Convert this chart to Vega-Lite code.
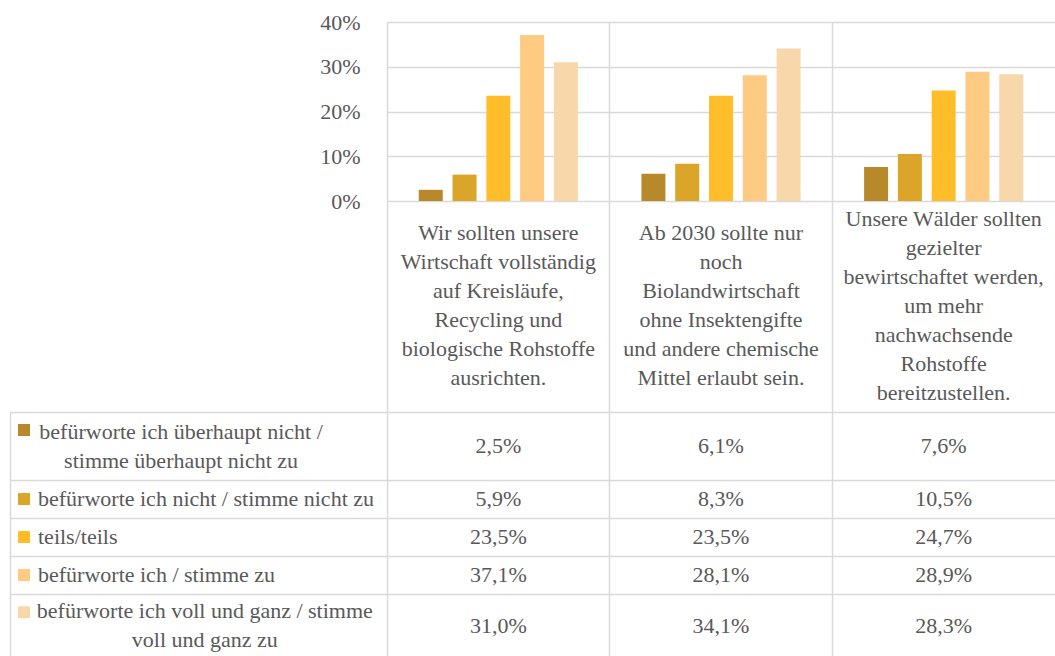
{
  "$schema": "https://vega.github.io/schema/vega-lite/v6.json",
  "padding": {"left": 10, "top": 11, "right": 0, "bottom": 0},
  "background": "white",
  "config": {
    "font": "Liberation Serif, DejaVu Serif, serif",
    "view": {"stroke": null},
    "locale": {"number": {"decimal": ",", "thousands": ".", "grouping": [3], "currency": ["", " €"]}},
    "axis": {"gridColor": "#d9d9d9", "gridWidth": 1.5, "domainColor": "#d9d9d9", "domainWidth": 1.5, "labelColor": "#595959", "labelFont": "Liberation Serif, DejaVu Serif, serif"},
    "text": {"font": "Liberation Serif, DejaVu Serif, serif", "fill": "#595959", "fontSize": 22},
    "concat": {"spacing": 0}
  },
  "datasets": {
    "kategorien": [
      {"K": 1, "Kategorie": "Wir sollten unsere\nWirtschaft vollständig\nauf Kreisläufe,\nRecycling und\nbiologische Rohstoffe\nausrichten."},
      {"K": 2, "Kategorie": "Ab 2030 sollte nur\nnoch\nBiolandwirtschaft\nohne Insektengifte\nund andere chemische\nMittel erlaubt sein."},
      {"K": 3, "Kategorie": "Unsere Wälder sollten\ngezielter\nbewirtschaftet werden,\num mehr\nnachwachsende\nRohstoffe\nbereitzustellen."}
    ],
    "antworten": [
      {"Nr": 1, "Antwort": "befürworte ich überhaupt nicht /\nstimme überhaupt nicht zu"},
      {"Nr": 2, "Antwort": "befürworte ich nicht / stimme nicht zu"},
      {"Nr": 3, "Antwort": "teils/teils"},
      {"Nr": 4, "Antwort": "befürworte ich / stimme zu"},
      {"Nr": 5, "Antwort": "befürworte ich voll und ganz / stimme\nvoll und ganz zu"}
    ],
    "werte": [
      {"K": 1, "Nr": 1, "Wert": 0.025},
      {"K": 1, "Nr": 2, "Wert": 0.059},
      {"K": 1, "Nr": 3, "Wert": 0.235},
      {"K": 1, "Nr": 4, "Wert": 0.371},
      {"K": 1, "Nr": 5, "Wert": 0.310},
      {"K": 2, "Nr": 1, "Wert": 0.061},
      {"K": 2, "Nr": 2, "Wert": 0.083},
      {"K": 2, "Nr": 3, "Wert": 0.235},
      {"K": 2, "Nr": 4, "Wert": 0.281},
      {"K": 2, "Nr": 5, "Wert": 0.341},
      {"K": 3, "Nr": 1, "Wert": 0.076},
      {"K": 3, "Nr": 2, "Wert": 0.105},
      {"K": 3, "Nr": 3, "Wert": 0.247},
      {"K": 3, "Nr": 4, "Wert": 0.289},
      {"K": 3, "Nr": 5, "Wert": 0.283}
    ]
  },
  "columns": 3,
  "spacing": 0,
  "bounds": "flush",
  "concat": [
    {"width": 28, "height": 179, "data": {"values": []}, "mark": "text", "encoding": {}},
    {"width": 349, "height": 179, "data": {"values": []}, "mark": "text", "encoding": {}},
    {
      "width": 668, "height": 179,
      "data": {"name": "werte"},
      "mark": {"type": "bar"},
      "encoding": {
        "x": {"field": "K", "type": "ordinal", "scale": {"type": "band", "paddingInner": 0, "paddingOuter": 0},
              "axis": {"title": null, "labels": false, "ticks": false, "domain": false, "grid": true, "bandPosition": 0}},
        "xOffset": {"field": "Nr", "type": "ordinal", "scale": {"paddingInner": 0.29, "paddingOuter": 0.94}},
        "y": {"field": "Wert", "type": "quantitative", "scale": {"domain": [0, 0.4]},
              "axis": {"title": null, "values": [0, 0.1, 0.2, 0.3, 0.4], "format": ".0%", "domain": false, "ticks": false, "tickSize": 0, "labelPadding": 27, "labelFontSize": 22, "grid": true}},
        "color": {"field": "Nr", "type": "ordinal", "scale": {"domain": [1, 2, 3, 4, 5], "range": ["#B8892A", "#DAA529", "#FFBE29", "#FFCB82", "#F8D8AA"]}, "legend": null}
      }
    },
    {"width": 28, "height": 211, "data": {"values": []}, "mark": "text", "encoding": {}},
    {"width": 349, "height": 211, "data": {"values": []}, "mark": "text", "encoding": {}},
    {
      "width": 668, "height": 211,
      "data": {"name": "kategorien"},
      "encoding": {
        "x": {"field": "K", "type": "ordinal", "scale": {"type": "band", "paddingInner": 0, "paddingOuter": 0},
              "axis": {"title": null, "labels": false, "ticks": false, "domain": false, "grid": true, "bandPosition": 0}},
        "text": {"field": "Kategorie"}
      },
      "layer": [
        {"transform": [{"filter": "datum.K !== 3"}], "mark": {"type": "text", "align": "center", "baseline": "middle", "lineBreak": "\n", "lineHeight": 29, "dy": -74}},
        {"transform": [{"filter": "datum.K === 3"}], "mark": {"type": "text", "align": "center", "baseline": "middle", "lineBreak": "\n", "lineHeight": 29, "dy": -88}}
      ]
    },

    {"width": 28, "height": 68, "data": {"name": "antworten"}, "transform": [{"filter": "datum.Nr === 1"}],
     "mark": {"type": "square", "size": 144, "opacity": 1},
     "encoding": {
       "x": {"field": "Nr", "type": "ordinal", "axis": {"orient": "top", "title": null, "labels": false, "ticks": false, "domain": true, "grid": false}},
       "y": {"field": "Nr", "type": "ordinal", "scale": {"type": "band", "paddingInner": 0, "paddingOuter": 0}, "bandPosition": 0.265, "axis": {"orient": "left", "title": null, "labels": false, "ticks": false, "domain": true, "grid": false}},
       "color": {"field": "Nr", "type": "ordinal", "scale": {"domain": [1, 2, 3, 4, 5], "range": ["#B8892A", "#DAA529", "#FFBE29", "#FFCB82", "#F8D8AA"]}, "legend": null}
     }},
    {"width": 349, "height": 68, "data": {"name": "antworten"}, "transform": [{"filter": "datum.Nr === 1"}],
     "mark": {"type": "text", "align": "center", "baseline": "middle", "lineBreak": "\n", "lineHeight": 29, "dy": -14.5},
     "encoding": {
       "x": {"field": "Nr", "type": "ordinal", "scale": {"type": "band", "paddingInner": 0, "paddingOuter": 0}, "bandPosition": 0.41, "axis": {"orient": "top", "title": null, "labels": false, "ticks": false, "domain": true, "grid": false}},
       "text": {"field": "Antwort"}
     }},
    {"width": 668, "height": 68, "data": {"name": "werte"}, "transform": [{"filter": "datum.Nr === 1"}],
     "mark": {"type": "text", "align": "center", "baseline": "middle"},
     "encoding": {
       "x": {"field": "K", "type": "ordinal", "scale": {"type": "band", "paddingInner": 0, "paddingOuter": 0}, "axis": {"orient": "top", "title": null, "labels": false, "ticks": false, "domain": true, "grid": true, "bandPosition": 0}},
       "text": {"field": "Wert", "type": "quantitative", "format": ".1%"}
     }},

    {"width": 28, "height": 38, "data": {"name": "antworten"}, "transform": [{"filter": "datum.Nr === 2"}],
     "mark": {"type": "square", "size": 144, "opacity": 1},
     "encoding": {
       "x": {"field": "Nr", "type": "ordinal", "axis": {"orient": "top", "title": null, "labels": false, "ticks": false, "domain": true, "grid": false}},
       "y": {"field": "Nr", "type": "ordinal", "axis": {"orient": "left", "title": null, "labels": false, "ticks": false, "domain": true, "grid": false}},
       "color": {"field": "Nr", "type": "ordinal", "scale": {"domain": [1, 2, 3, 4, 5], "range": ["#B8892A", "#DAA529", "#FFBE29", "#FFCB82", "#F8D8AA"]}, "legend": null}
     }},
    {"width": 349, "height": 38, "data": {"name": "antworten"}, "transform": [{"filter": "datum.Nr === 2"}],
     "mark": {"type": "text", "align": "left", "baseline": "middle"},
     "encoding": {
       "x": {"field": "Nr", "type": "ordinal", "scale": {"type": "band", "paddingInner": 0, "paddingOuter": 0}, "bandPosition": 0, "axis": {"orient": "top", "title": null, "labels": false, "ticks": false, "domain": true, "grid": false}},
       "text": {"field": "Antwort"}
     }},
    {"width": 668, "height": 38, "data": {"name": "werte"}, "transform": [{"filter": "datum.Nr === 2"}],
     "mark": {"type": "text", "align": "center", "baseline": "middle"},
     "encoding": {
       "x": {"field": "K", "type": "ordinal", "scale": {"type": "band", "paddingInner": 0, "paddingOuter": 0}, "axis": {"orient": "top", "title": null, "labels": false, "ticks": false, "domain": true, "grid": true, "bandPosition": 0}},
       "text": {"field": "Wert", "type": "quantitative", "format": ".1%"}
     }},

    {"width": 28, "height": 38, "data": {"name": "antworten"}, "transform": [{"filter": "datum.Nr === 3"}],
     "mark": {"type": "square", "size": 144, "opacity": 1},
     "encoding": {
       "x": {"field": "Nr", "type": "ordinal", "axis": {"orient": "top", "title": null, "labels": false, "ticks": false, "domain": true, "grid": false}},
       "y": {"field": "Nr", "type": "ordinal", "axis": {"orient": "left", "title": null, "labels": false, "ticks": false, "domain": true, "grid": false}},
       "color": {"field": "Nr", "type": "ordinal", "scale": {"domain": [1, 2, 3, 4, 5], "range": ["#B8892A", "#DAA529", "#FFBE29", "#FFCB82", "#F8D8AA"]}, "legend": null}
     }},
    {"width": 349, "height": 38, "data": {"name": "antworten"}, "transform": [{"filter": "datum.Nr === 3"}],
     "mark": {"type": "text", "align": "left", "baseline": "middle"},
     "encoding": {
       "x": {"field": "Nr", "type": "ordinal", "scale": {"type": "band", "paddingInner": 0, "paddingOuter": 0}, "bandPosition": 0, "axis": {"orient": "top", "title": null, "labels": false, "ticks": false, "domain": true, "grid": false}},
       "text": {"field": "Antwort"}
     }},
    {"width": 668, "height": 38, "data": {"name": "werte"}, "transform": [{"filter": "datum.Nr === 3"}],
     "mark": {"type": "text", "align": "center", "baseline": "middle"},
     "encoding": {
       "x": {"field": "K", "type": "ordinal", "scale": {"type": "band", "paddingInner": 0, "paddingOuter": 0}, "axis": {"orient": "top", "title": null, "labels": false, "ticks": false, "domain": true, "grid": true, "bandPosition": 0}},
       "text": {"field": "Wert", "type": "quantitative", "format": ".1%"}
     }},

    {"width": 28, "height": 38, "data": {"name": "antworten"}, "transform": [{"filter": "datum.Nr === 4"}],
     "mark": {"type": "square", "size": 144, "opacity": 1},
     "encoding": {
       "x": {"field": "Nr", "type": "ordinal", "axis": {"orient": "top", "title": null, "labels": false, "ticks": false, "domain": true, "grid": false}},
       "y": {"field": "Nr", "type": "ordinal", "axis": {"orient": "left", "title": null, "labels": false, "ticks": false, "domain": true, "grid": false}},
       "color": {"field": "Nr", "type": "ordinal", "scale": {"domain": [1, 2, 3, 4, 5], "range": ["#B8892A", "#DAA529", "#FFBE29", "#FFCB82", "#F8D8AA"]}, "legend": null}
     }},
    {"width": 349, "height": 38, "data": {"name": "antworten"}, "transform": [{"filter": "datum.Nr === 4"}],
     "mark": {"type": "text", "align": "left", "baseline": "middle"},
     "encoding": {
       "x": {"field": "Nr", "type": "ordinal", "scale": {"type": "band", "paddingInner": 0, "paddingOuter": 0}, "bandPosition": 0, "axis": {"orient": "top", "title": null, "labels": false, "ticks": false, "domain": true, "grid": false}},
       "text": {"field": "Antwort"}
     }},
    {"width": 668, "height": 38, "data": {"name": "werte"}, "transform": [{"filter": "datum.Nr === 4"}],
     "mark": {"type": "text", "align": "center", "baseline": "middle"},
     "encoding": {
       "x": {"field": "K", "type": "ordinal", "scale": {"type": "band", "paddingInner": 0, "paddingOuter": 0}, "axis": {"orient": "top", "title": null, "labels": false, "ticks": false, "domain": true, "grid": true, "bandPosition": 0}},
       "text": {"field": "Wert", "type": "quantitative", "format": ".1%"}
     }},

    {"width": 28, "height": 63, "data": {"name": "antworten"}, "transform": [{"filter": "datum.Nr === 5"}],
     "mark": {"type": "square", "size": 144, "opacity": 1},
     "encoding": {
       "x": {"field": "Nr", "type": "ordinal", "axis": {"orient": "top", "title": null, "labels": false, "ticks": false, "domain": true, "grid": false}},
       "y": {"field": "Nr", "type": "ordinal", "scale": {"type": "band", "paddingInner": 0, "paddingOuter": 0}, "bandPosition": 0.29, "axis": {"orient": "left", "title": null, "labels": false, "ticks": false, "domain": true, "grid": false}},
       "color": {"field": "Nr", "type": "ordinal", "scale": {"domain": [1, 2, 3, 4, 5], "range": ["#B8892A", "#DAA529", "#FFBE29", "#FFCB82", "#F8D8AA"]}, "legend": null}
     }},
    {"width": 349, "height": 63, "data": {"name": "antworten"}, "transform": [{"filter": "datum.Nr === 5"}],
     "mark": {"type": "text", "align": "center", "baseline": "middle", "lineBreak": "\n", "lineHeight": 29, "dy": -14.5},
     "encoding": {
       "x": {"field": "Nr", "type": "ordinal", "scale": {"type": "band", "paddingInner": 0, "paddingOuter": 0}, "bandPosition": 0.478, "axis": {"orient": "top", "title": null, "labels": false, "ticks": false, "domain": true, "grid": false}},
       "text": {"field": "Antwort"}
     }},
    {"width": 668, "height": 63, "data": {"name": "werte"}, "transform": [{"filter": "datum.Nr === 5"}],
     "mark": {"type": "text", "align": "center", "baseline": "middle"},
     "encoding": {
       "x": {"field": "K", "type": "ordinal", "scale": {"type": "band", "paddingInner": 0, "paddingOuter": 0}, "axis": {"orient": "top", "title": null, "labels": false, "ticks": false, "domain": true, "grid": true, "bandPosition": 0}},
       "text": {"field": "Wert", "type": "quantitative", "format": ".1%"}
     }}
  ]
}
